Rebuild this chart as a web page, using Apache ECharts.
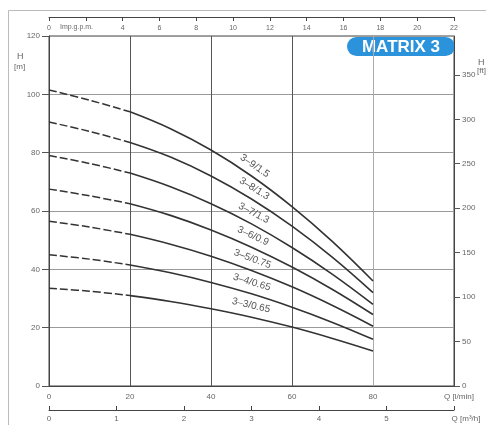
<!DOCTYPE html>
<html>
<head>
<meta charset="utf-8">
<script src="https://cdn.jsdelivr.net/npm/echarts@6/dist/echarts.min.js"></script>
<style>
  html, body { margin: 0; padding: 0; background: #fff; }
  #chart { width: 486px; height: 425px; }
</style>
</head>
<body>
<div id="chart"></div>
<script>
// Flow rate sample points, l/min (0..20 is the dashed start-up range)
const flowQ = [0, 10, 20, 30, 40, 50, 60, 70, 80];

// Head per pump model, metres, at each flow in flowQ
const head_3_9 = [101.5, 98, 94, 88.2, 80.9, 72, 61.5, 49.5, 36];
const head_3_8 = [90.5, 87.3, 83.5, 78.5, 72, 64.1, 54.8, 44.1, 32];
const head_3_7 = [79, 76.3, 73, 68.3, 62.5, 55.6, 47.5, 38.3, 28];
const head_3_6 = [67.5, 65.2, 62.5, 58.5, 53.5, 47.6, 40.8, 33.1, 24.5];
const head_3_5 = [56.5, 54.5, 52, 48.6, 44.5, 39.6, 34, 27.6, 20.5];
const head_3_4 = [45, 43.5, 41.5, 38.8, 35.5, 31.6, 27, 21.8, 16];
const head_3_3 = [33.5, 32.5, 31, 29, 26.5, 23.6, 20.2, 16.3, 12];

const curveNames = ['3–9/1.5', '3–8/1.3', '3–7/1.3', '3–6/0.9', '3–5/0.75', '3–4/0.65', '3–3/0.65'];
const curveHeads = [head_3_9, head_3_8, head_3_7, head_3_6, head_3_5, head_3_4, head_3_3];

// Axis ranges and tick steps
const flowMaxLpm = 100;
const headMaxM = 120;
const headMaxFt = headMaxM / 0.3048;
const impGpmMax = 22;
const m3hMax = 6;
const dashedUpTo = 20; // flows below this are drawn dashed

const FONT = '"Liberation Sans Narrow", "Liberation Sans", Arial, sans-serif';
const LABEL_COLOR = '#666';
const CURVE_COLOR = '#333';

// plot area in pixels (used for label slopes)
const grid = { left: 49, right: 32, top: 36, bottom: 39 };
const plotW = 486 - grid.left - grid.right;
const plotH = 425 - grid.top - grid.bottom;
const pxPerQ = plotW / flowMaxLpm;
const pxPerH = plotH / headMaxM;

const series = [];
curveHeads.forEach((heads, k) => {
  const pts = flowQ.map((q, i) => [q, heads[i]]);
  const split = flowQ.indexOf(dashedUpTo);
  series.push({
    type: 'line',
    data: pts.slice(0, split + 1),
    smooth: 0.4,
    symbol: 'none',
    silent: true,
    lineStyle: { color: CURVE_COLOR, width: 1.5, type: [8, 3] }
  });
  // model label sits above the solid part, just left of Q = 50
  const iA = flowQ.indexOf(40), iB = flowQ.indexOf(60);
  const labelQ = 48.5;
  const labelH = heads[iA] + (heads[iB] - heads[iA]) * (labelQ - 40) / 20;
  const slopeDeg = Math.atan(((heads[iA] - heads[iB]) * pxPerH) / ((flowQ[iB] - flowQ[iA]) * pxPerQ)) * 180 / Math.PI;
  series.push({
    type: 'line',
    data: pts.slice(split),
    smooth: 0.4,
    symbol: 'none',
    silent: true,
    lineStyle: { color: CURVE_COLOR, width: 1.6 },
    markPoint: {
      symbol: 'circle',
      symbolSize: 0,
      silent: true,
      data: [{ coord: [labelQ, labelH] }],
      label: {
        show: true,
        position: 'inside',
        formatter: curveNames[k],
        rotate: -slopeDeg,
        offset: [3, -12],
        color: '#555',
        fontSize: 10,
        fontFamily: FONT
      }
    }
  });
});

const axisLine = { show: true, onZero: false, lineStyle: { color: '#444', width: 1 } };

const chart = echarts.init(document.getElementById('chart'), null, { renderer: 'canvas' });

chart.setOption({
  backgroundColor: '#fff',
  animation: false,
  grid: {
    left: grid.left, right: grid.right, top: grid.top, bottom: grid.bottom,
    show: true, borderColor: '#444', borderWidth: 1, backgroundColor: 'transparent'
  },
  xAxis: [
    {
      // flow, l/min
      type: 'value', position: 'bottom', min: 0, max: flowMaxLpm, interval: 20,
      axisLine: axisLine,
      axisTick: { show: false },
      splitLine: { show: true, lineStyle: { color: ['#555', '#555', '#555', '#555', '#aaa', '#555'], width: 1 } },
      axisLabel: {
        color: LABEL_COLOR, fontSize: 8, fontFamily: FONT, margin: 7,
        showMinLabel: true, showMaxLabel: true,
        formatter: v => v === flowMaxLpm ? '{q|Q [l/min]}' : String(v),
        rich: { q: { fontSize: 8, fontFamily: FONT, color: LABEL_COLOR, padding: [0, 0, 0, 10] } }
      }
    },
    {
      // flow, imperial gallons per minute
      type: 'value', position: 'top', offset: 19, min: 0, max: impGpmMax, interval: 2,
      axisLine: axisLine,
      axisTick: { show: true, inside: true, length: 4, lineStyle: { color: '#444' } },
      splitLine: { show: false },
      axisLabel: {
        inside: true, margin: 8, color: LABEL_COLOR, fontSize: 7, fontFamily: FONT,
        showMinLabel: true, showMaxLabel: true,
        formatter: v => v === 2 ? '' : String(v)
      }
    },
    {
      // flow, cubic metres per hour
      type: 'value', position: 'bottom', offset: 24, min: 0, max: m3hMax, interval: 1,
      axisLine: axisLine,
      axisTick: { show: true, inside: true, length: 4, lineStyle: { color: '#444' } },
      splitLine: { show: false },
      axisLabel: {
        color: LABEL_COLOR, fontSize: 8, fontFamily: FONT, margin: 5,
        showMinLabel: true, showMaxLabel: true,
        formatter: v => v === m3hMax ? '{q|Q [m³/h]}' : String(v),
        rich: { q: { fontSize: 8, fontFamily: FONT, color: LABEL_COLOR, padding: [0, 0, 0, 24] } }
      }
    }
  ],
  yAxis: [
    {
      // head, metres
      type: 'value', position: 'left', min: 0, max: headMaxM, interval: 20,
      axisLine: axisLine,
      axisTick: { show: true, inside: false, length: 7, lineStyle: { color: '#555' } },
      splitLine: { show: true, lineStyle: { color: '#9a9a9a', width: 1 } },
      axisLabel: { color: LABEL_COLOR, fontSize: 8, fontFamily: FONT, margin: 9 }
    },
    {
      // head, feet
      type: 'value', position: 'right', min: 0, max: headMaxFt, interval: 50,
      axisLine: axisLine,
      axisTick: { show: true, inside: false, length: 6, lineStyle: { color: '#555' } },
      splitLine: { show: false },
      axisLabel: {
        color: LABEL_COLOR, fontSize: 8, fontFamily: FONT, margin: 8,
        showMaxLabel: false,
        formatter: v => (v % 50 === 0 ? String(v) : '')
      }
    }
  ],
  series: series,
  graphic: [
    // sheet border
    { type: 'line', shape: { x1: 8.5, y1: 10.5, x2: 486, y2: 10.5 }, style: { stroke: '#bbb', lineWidth: 1 }, silent: true },
    { type: 'line', shape: { x1: 8.5, y1: 10.5, x2: 8.5, y2: 425 }, style: { stroke: '#bbb', lineWidth: 1 }, silent: true },
    // unit captions
    { type: 'text', left: 17, top: 52, style: { text: 'H', fill: LABEL_COLOR, font: '9px ' + FONT } },
    { type: 'text', left: 14, top: 63, style: { text: '[m]', fill: LABEL_COLOR, font: '8px ' + FONT } },
    { type: 'text', left: 478, top: 58, style: { text: 'H', fill: LABEL_COLOR, font: '9px ' + FONT } },
    { type: 'text', left: 477, top: 67, style: { text: '[ft]', fill: LABEL_COLOR, font: '8px ' + FONT } },
    { type: 'text', left: 60, top: 24, style: { text: 'Imp.g.p.m.', fill: LABEL_COLOR, font: '7px ' + FONT } },
    // model badge
    {
      type: 'group', left: 347, top: 37,
      children: [
        { type: 'rect', shape: { x: 0, y: 0, width: 108, height: 19, r: [10, 10, 10, 10] }, style: { fill: '#2a93dc' } },
        { type: 'text', style: { x: 54, y: 10, text: 'MATRIX 3', fill: '#fff', font: 'bold 17px "Liberation Sans", Arial, sans-serif', align: 'center', verticalAlign: 'middle' } }
      ]
    }
  ]
});
</script>
</body>
</html>
